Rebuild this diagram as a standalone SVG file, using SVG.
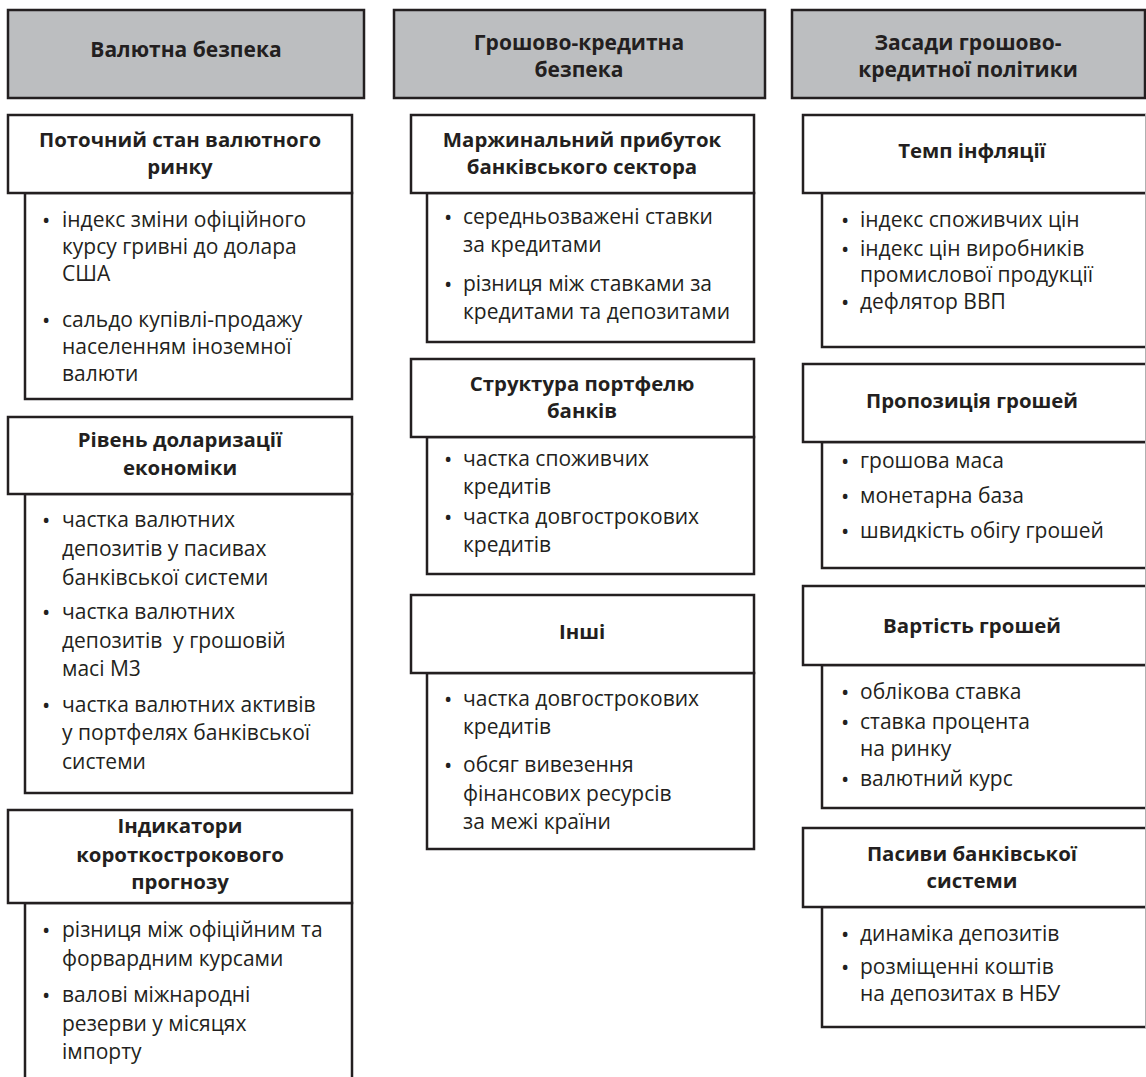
<svg xmlns="http://www.w3.org/2000/svg" width="1146" height="1077" viewBox="0 0 1146 1077">
<style>
.hd{fill:#bcbec0;stroke:#231f20;stroke-width:2.5}
.bx{fill:#ffffff;stroke:#231f20;stroke-width:2.5}
.t{font-family:"Open Sans","Noto Sans","DejaVu Sans",sans-serif;fill:#231f20}
.h{font-size:21px;font-weight:700;text-anchor:middle}
.s{font-size:20.4px;font-weight:700;text-anchor:middle}
.b{font-size:21px;font-weight:400}
.d{font-size:22px}
</style>
<rect width="1146" height="1077" fill="#ffffff"/>
<g id="connectors"/>

<!-- Left column -->
<g id="h-valutna">
<rect class="hd" x="8" y="10" width="356" height="88"/>
<text class="t h" x="186" y="57">Валютна безпека</text>
</g>
<g id="l-c1">
<rect class="bx" x="25" y="193" width="327" height="206"/>
<text class="t d" x="42" y="228">•</text>
<text class="t b" x="62" y="227">індекс зміни офіційного</text>
<text class="t b" x="62" y="254">курсу гривні до долара</text>
<text class="t b" x="62" y="281">США</text>
<text class="t d" x="42" y="328">•</text>
<text class="t b" x="62" y="327">сальдо купівлі-продажу</text>
<text class="t b" x="62" y="354">населенням іноземної</text>
<text class="t b" x="62" y="381">валюти</text>
</g>
<g id="l-s1">
<rect class="bx" x="8" y="115" width="344" height="78"/>
<text class="t s" x="180" y="147">Поточний стан валютного</text>
<text class="t s" x="180" y="174">ринку</text>
</g>
<g id="l-c2">
<rect class="bx" x="25" y="494" width="327" height="299"/>
<text class="t d" x="42" y="528">•</text>
<text class="t b" x="62" y="527">частка валютних</text>
<text class="t b" x="62" y="556">депозитів у пасивах</text>
<text class="t b" x="62" y="585">банківської системи</text>
<text class="t d" x="42" y="620">•</text>
<text class="t b" x="62" y="619">частка валютних</text>
<text class="t b" x="62" y="648" xml:space="preserve" style="white-space:pre">депозитів  у грошовій</text>
<text class="t b" x="62" y="676">масі М3</text>
<text class="t d" x="42" y="713">•</text>
<text class="t b" x="62" y="712">частка валютних активів</text>
<text class="t b" x="62" y="740">у портфелях банківської</text>
<text class="t b" x="62" y="769">системи</text>
</g>
<g id="l-s2">
<rect class="bx" x="8" y="417" width="344" height="77"/>
<text class="t s" x="180" y="447">Рівень доларизації</text>
<text class="t s" x="180" y="475">економіки</text>
</g>
<g id="l-c3">
<rect class="bx" x="25" y="903" width="327" height="190"/>
<text class="t d" x="42" y="938">•</text>
<text class="t b" x="62" y="937">різниця між офіційним та</text>
<text class="t b" x="62" y="966">форвардним курсами</text>
<text class="t d" x="42" y="1003">•</text>
<text class="t b" x="62" y="1002">валові міжнародні</text>
<text class="t b" x="62" y="1031">резерви у місяцях</text>
<text class="t b" x="62" y="1059">імпорту</text>
</g>
<g id="l-s3">
<rect class="bx" x="8" y="810" width="344" height="93"/>
<text class="t s" x="180" y="833">Індикатори</text>
<text class="t s" x="180" y="862">короткострокового</text>
<text class="t s" x="180" y="889">прогнозу</text>
</g>

<!-- Middle column -->
<g id="h-groshovo">
<rect class="hd" x="394" y="10" width="371" height="88"/>
<text class="t h" x="579" y="50">Грошово-кредитна</text>
<text class="t h" x="579" y="77">безпека</text>
</g>
<g id="m-c1">
<rect class="bx" x="427" y="193" width="327" height="149"/>
<text class="t d" x="444" y="225">•</text>
<text class="t b" x="463" y="224">середньозважені ставки</text>
<text class="t b" x="463" y="252">за кредитами</text>
<text class="t d" x="444" y="292">•</text>
<text class="t b" x="463" y="291">різниця між ставками за</text>
<text class="t b" x="463" y="319">кредитами та депозитами</text>
</g>
<g id="m-s1">
<rect class="bx" x="411" y="115" width="343" height="78"/>
<text class="t s" x="582" y="147">Маржинальний прибуток</text>
<text class="t s" x="582" y="174">банківського сектора</text>
</g>
<g id="m-c2">
<rect class="bx" x="427" y="437" width="327" height="137"/>
<text class="t d" x="444" y="467">•</text>
<text class="t b" x="463" y="466">частка споживчих</text>
<text class="t b" x="463" y="494">кредитів</text>
<text class="t d" x="444" y="525">•</text>
<text class="t b" x="463" y="524">частка довгострокових</text>
<text class="t b" x="463" y="552">кредитів</text>
</g>
<g id="m-s2">
<rect class="bx" x="411" y="359" width="343" height="78"/>
<text class="t s" x="582" y="391">Структура портфелю</text>
<text class="t s" x="582" y="418">банків</text>
</g>
<g id="m-c3">
<rect class="bx" x="427" y="673" width="327" height="176"/>
<text class="t d" x="444" y="707">•</text>
<text class="t b" x="463" y="706">частка довгострокових</text>
<text class="t b" x="463" y="734">кредитів</text>
<text class="t d" x="444" y="773">•</text>
<text class="t b" x="463" y="772">обсяг вивезення</text>
<text class="t b" x="463" y="801">фінансових ресурсів</text>
<text class="t b" x="463" y="829">за межі країни</text>
</g>
<g id="m-s3">
<rect class="bx" x="411" y="595" width="343" height="78"/>
<text class="t s" x="582" y="639">Інші</text>
</g>

<!-- Right column -->
<g id="h-zasady">
<rect class="hd" x="792" y="10" width="353" height="88"/>
<text class="t h" x="968" y="50">Засади грошово-</text>
<text class="t h" x="968" y="77">кредитної політики</text>
</g>
<g id="r-c1">
<rect class="bx" x="822" y="193" width="330" height="154"/>
<text class="t d" x="841" y="228">•</text>
<text class="t b" x="860" y="227">індекс споживчих цін</text>
<text class="t d" x="841" y="257">•</text>
<text class="t b" x="860" y="256">індекс цін виробників</text>
<text class="t b" x="860" y="282">промислової продукції</text>
<text class="t d" x="841" y="310">•</text>
<text class="t b" x="860" y="309">дефлятор ВВП</text>
</g>
<g id="r-s1">
<rect class="bx" x="803" y="115" width="349" height="78"/>
<text class="t s" x="972" y="158">Темп інфляції</text>
</g>
<g id="r-c2">
<rect class="bx" x="822" y="442" width="330" height="126"/>
<text class="t d" x="841" y="469">•</text>
<text class="t b" x="860" y="468">грошова маса</text>
<text class="t d" x="841" y="504">•</text>
<text class="t b" x="860" y="503">монетарна база</text>
<text class="t d" x="841" y="539">•</text>
<text class="t b" x="860" y="538">швидкість обігу грошей</text>
</g>
<g id="r-s2">
<rect class="bx" x="803" y="364" width="349" height="78"/>
<text class="t s" x="972" y="408">Пропозиція грошей</text>
</g>
<g id="r-c3">
<rect class="bx" x="822" y="665" width="330" height="143"/>
<text class="t d" x="841" y="700">•</text>
<text class="t b" x="860" y="699">облікова ставка</text>
<text class="t d" x="841" y="730">•</text>
<text class="t b" x="860" y="729">ставка процента</text>
<text class="t b" x="860" y="756">на ринку</text>
<text class="t d" x="841" y="787">•</text>
<text class="t b" x="860" y="786">валютний курс</text>
</g>
<g id="r-s3">
<rect class="bx" x="803" y="586" width="349" height="79"/>
<text class="t s" x="972" y="633">Вартість грошей</text>
</g>
<g id="r-c4">
<rect class="bx" x="822" y="907" width="330" height="120"/>
<text class="t d" x="841" y="942">•</text>
<text class="t b" x="860" y="941">динаміка депозитів</text>
<text class="t d" x="841" y="975">•</text>
<text class="t b" x="860" y="974">розміщенні коштів</text>
<text class="t b" x="860" y="1001">на депозитах в НБУ</text>
</g>
<g id="r-s4">
<rect class="bx" x="803" y="828" width="349" height="79"/>
<text class="t s" x="972" y="861">Пасиви банківської</text>
<text class="t s" x="972" y="888">системи</text>
</g>
<line x1="1145.5" y1="114" x2="1145.5" y2="1028" stroke="#b0b0b0" stroke-width="1"/>
</svg>
